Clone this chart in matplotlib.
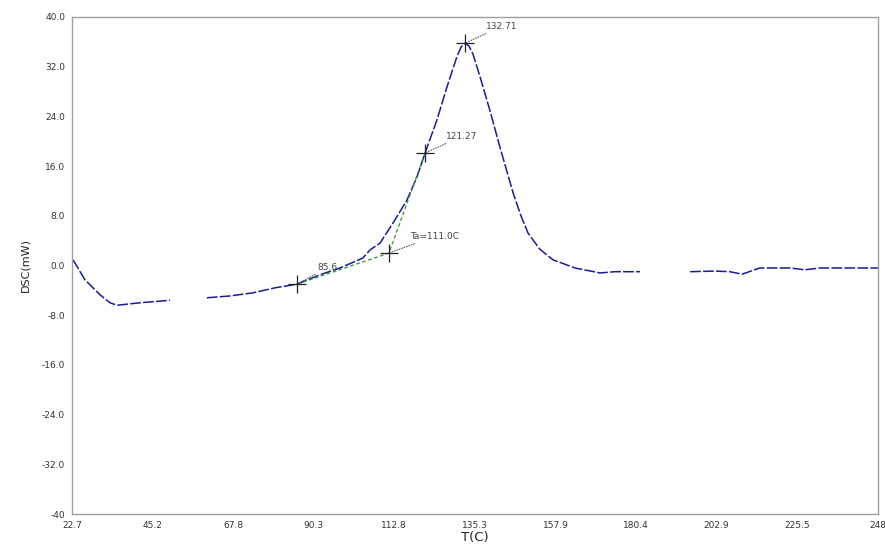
import numpy as np
import matplotlib.pyplot as plt

temp = [23.0, 26.3, 30.5, 33.3, 35.3, 41.7, 50.1, np.nan, 60.4, 66.9, 73.3, 79.4,
        85.6, 92.0, 97.6, 104.0, 106.0, 108.8, 112.4, 116.3, 119.1, 121.4, 124.7,
        127.5, 130.3, 131.5, 132.6, 133.7, 134.8, 136.8, 139.5, 142.3, 146.0,
        148.2, 150.2, 153.5, 157.2, 163.3, 170.3, 174.5, 181.5, np.nan, 195.5,
        202.4, 206.6, 210.0, 215.0, 223.4, 227.6, 231.8, 240.2, 248.0]
dsc = [0.9, -2.3, -4.7, -6.0, -6.4, -6.0, -5.6, np.nan, -5.2, -4.9, -4.4, -3.6,
       -3.0, -1.5, -0.4, 1.2, 2.5, 3.6, 6.8, 10.5, 14.2, 18.1, 23.4,
       28.7, 33.6, 35.2, 35.8, 35.3, 34.0, 30.3, 25.0, 19.1, 11.7,
       8.0, 5.2, 2.6, 0.9, -0.4, -1.2, -1.0, -1.0, np.nan, -1.0,
       -0.9, -1.0, -1.4, -0.4, -0.4, -0.7, -0.4, -0.4, -0.4]

# analysis points and their labels
mark_t = [85.6, 111.3, 121.4, 132.6]
mark_y = [-3.0, 2.0, 18.1, 35.8]
mark_lab = ["85.6", "Ta=111.0C", "121.27", "132.71"]

xticks = [22.7, 45.2, 67.8, 90.3, 112.8, 135.3, 157.9, 180.4, 202.9, 225.5, 248.0]
xlabels = ["22.7", "45.2", "67.8", "90.3", "112.8", "135.3", "157.9", "180.4",
           "202.9", "225.5", "248"]
yticks = [40, 32, 24, 16, 8, 0, -8, -16, -24, -32, -40]
ylabels = ["40.0", "32.0", "24.0", "16.0", "8.0", "0.0", "-8.0", "-16.0",
           "-24.0", "-32.0", "-40"]

fig = plt.figure(figsize=(8.85, 5.47), dpi=100)
ax = fig.add_axes([0.0814, 0.0603, 0.9106, 0.9087])

ax.plot(temp, dsc, color="#1a1a9a", lw=1.1, dashes=(7, 1.5))

# onset tangents
ax.plot(mark_t[:3], mark_y[:3], color="#2e9a2e", lw=0.9, ls="--", dashes=(3, 2))

ax.plot(mark_t, mark_y, "+", color="#222222", ms=13, mew=0.9)
for t, y, s in zip(mark_t, mark_y, mark_lab):
    ax.annotate(s, xy=(t, y), xytext=(15, 12), textcoords="offset points",
                fontsize=6.5, color="#444444", va="center",
                arrowprops=dict(arrowstyle="-", color="#444444", lw=0.7,
                                ls=":", shrinkA=0, shrinkB=0))

ax.set_xlim(22.7, 248.0)
ax.set_ylim(-40, 40)
ax.set_xticks(xticks)
ax.set_xticklabels(xlabels)
ax.set_yticks(yticks)
ax.set_yticklabels(ylabels)
ax.tick_params(length=0, labelsize=6.5, labelcolor="#333333", pad=5)
for sp in ax.spines.values():
    sp.set_color("#a0a0a0")
    sp.set_linewidth(1.0)

ax.set_xlabel("T(C)", fontsize=9.5, color="#222222", labelpad=1)
ax.set_ylabel("DSC(mW)", fontsize=8, color="#222222", labelpad=8)

fig.savefig("out.png", dpi=100)
